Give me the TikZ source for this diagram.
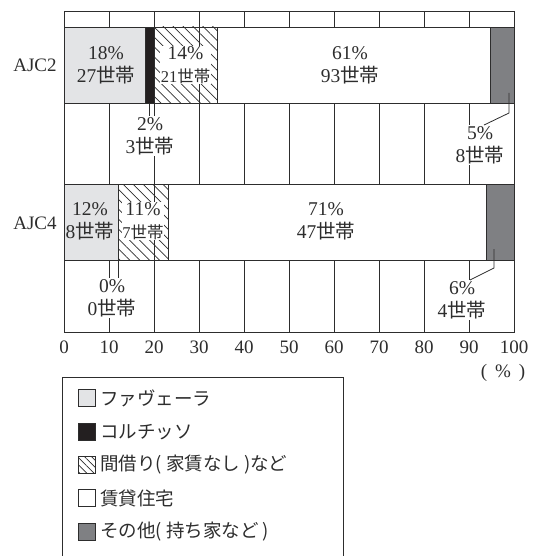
\documentclass[tikz,border=0pt]{standalone}
\usepackage{fontspec}
\setmainfont{Liberation Serif}
\newfontfamily\cjk{Noto Sans CJK JP}
\usetikzlibrary{patterns.meta}
\definecolor{favela}{RGB}{227,228,230}
\definecolor{corti}{RGB}{35,31,32}
\definecolor{other}{RGB}{127,128,131}
\definecolor{ln}{RGB}{45,45,45}
\tikzset{
  seg/.style={draw=ln, line width=0.9pt},
  hatch/.style={seg, pattern={Lines[angle=-45,distance=7pt,line width=0.7pt]}, pattern color=ln},
  gridln/.style={draw=ln, line width=0.7pt},
  lab/.style={inner sep=1pt, align=center, text=ln, font=\fontsize{19.5}{23}\selectfont},
  wlab/.style={lab, fill=white},
  tick/.style={text=ln, font=\fontsize{19}{22}\selectfont, inner sep=0pt},
  leader/.style={draw=ln, line width=0.8pt},
  legtext/.style={anchor=west, inner sep=0pt, text=ln, font=\cjk\fontsize{18.5}{22}\selectfont},
  swatch/.style={draw=ln, line width=0.8pt, minimum width=17pt, minimum height=17pt, inner sep=0pt}
}
\newcommand{\hh}{{\cjk 世帯}}
\begin{document}
\begin{tikzpicture}[x=1pt,y=-1pt]
\useasboundingbox (0,0) rectangle (539,556);
% grid lines
\foreach \i in {1,...,9} {
  \draw[gridln] ({64+45*\i},11) -- ({64+45*\i},332);
}
% AJC2 bar
\path[seg, fill=favela] (64,27) rectangle (145,103);
\path[seg, fill=corti] (145,27) rectangle (154,103);
\path[hatch] (154,27) rectangle (217,103);
\path[seg, fill=white] (217,27) rectangle (490,103);
\path[seg, fill=other] (490,27) rectangle (514,103);
% AJC4 bar
\path[seg, fill=favela] (64,184) rectangle (118,260);
\path[hatch] (118,184) rectangle (168,260);
\path[seg, fill=white] (168,184) rectangle (486,260);
\path[seg, fill=other] (486,184) rectangle (514,260);
% frame
\draw[seg] (64,11) rectangle (514,332);
% row labels
\node[tick] (r2) at (35,65) {AJC2};
\node[tick] (r4) at (35,223) {AJC4};
% labels inside bars
\node[lab] (a1) at (106,65) {18\%\\27\hh};
\node[wlab, inner sep=0.5pt] (a3) at (185.5,65) {14\%\\{\fontsize{16.5}{23}\selectfont 21\hh}};
\node[lab] (a4) at (350,65) {61\%\\93\hh};
\node[lab] (b1) at (90,221) {12\%\\8\hh};
\node[wlab, inner sep=0.5pt] (b3) at (143,221) {11\%\\{\fontsize{16.5}{23}\selectfont 7\hh}};
\node[lab] (b4) at (326,221) {71\%\\47\hh};
% callouts
\coordinate (p2) at (149.5,103);
\node[wlab] (n2) at (150,136) {2\%\\3\hh};
\draw[leader] (p2) -- (p2 |- n2.north);
\coordinate (p5a) at (509,93);
\coordinate (p5b) at (509,113);
\node[wlab] (n5) at (480,145) {5\%\\8\hh};
\draw[leader] (p5a) -- (p5b) -- ([xshift=4pt]n5.north);
\coordinate (p0) at (118,260);
\node[wlab] (n0) at (112,298) {0\%\\0\hh};
\draw[leader] (p0) -- (p0 |- n0.north);
\coordinate (p6a) at (494,249);
\coordinate (p6b) at (494,268);
\node[wlab] (n6) at (462,300) {6\%\\4\hh};
\draw[leader] (p6a) -- (p6b) -- ([xshift=8pt]n6.north);
% axis tick labels
\foreach \v in {0,10,...,100} {
  \node[tick] (t\v) at ({64+4.5*\v},347) {\v};
}
\node[tick] (unit) at (503,373) {(\,\ \%\ \,)};
% legend
\draw[seg] (62,556) -- (62,377) -- (343,377) -- (343,556);
\node[swatch, fill=favela] (s1) at (87,398) {};
\node[legtext] (e1) at (100,398) {ファヴェーラ};
\node[swatch, fill=corti] (s2) at (87,432) {};
\node[legtext] (e2) at (100,432) {コルチッソ};
\node[swatch, pattern={Lines[angle=-45,distance=5pt,line width=0.7pt]}, pattern color=ln] (s3) at (87,465) {};
\node[legtext] (e3) at (100,465) {間借り( 家賃なし )など};
\node[swatch, fill=white] (s4) at (87,498) {};
\node[legtext] (e4) at (100,498) {賃貸住宅};
\node[swatch, fill=other] (s5) at (87,532) {};
\node[legtext] (e5) at (100,532) {その他( 持ち家など )};
\end{tikzpicture}
\end{document}
